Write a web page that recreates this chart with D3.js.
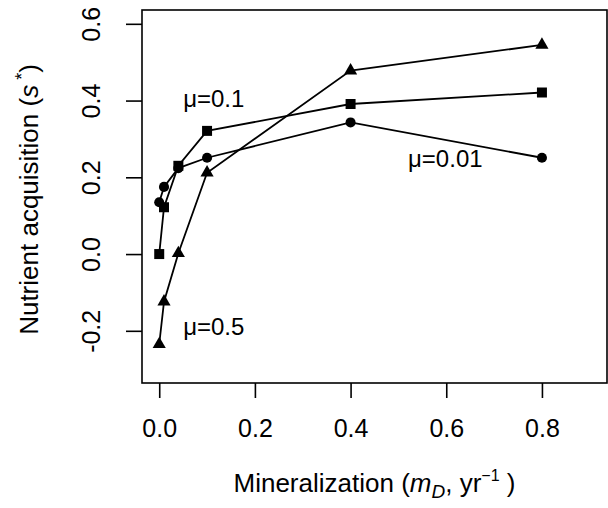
<!DOCTYPE html>
<html>
<head>
<meta charset="utf-8">
<script src="https://cdn.jsdelivr.net/npm/d3@7"></script>
<style>
  html, body { margin: 0; padding: 0; background: #fff; }
  svg { display: block; }
  text { font-family: "Liberation Sans", Arial, Helvetica, sans-serif; fill: #000; }
</style>
</head>
<body>
<svg id="chart" width="608" height="508"></svg>
<script>
// ---- data ----
const mineralization = [0, 0.01, 0.04, 0.1, 0.4, 0.8];
const mu001 = [0.135, 0.175, 0.224, 0.251, 0.343, 0.251];   // circles
const mu01  = [0.0, 0.122, 0.230, 0.321, 0.391, 0.421];    // squares
const mu05  = [-0.235, -0.124, 0.002, 0.212, 0.478, 0.545]; // triangles
const xTicks = [0.0, 0.2, 0.4, 0.6, 0.8];
const yTicks = [-0.2, 0.0, 0.2, 0.4, 0.6];
const seriesNames = ["μ=0.01", "μ=0.1", "μ=0.5"];
const labelPos = [[0.598, 0.25], [0.114, 0.405], [0.114, -0.19]];

// ---- layout ----
const svg = d3.select("#chart");
const pLeft = 142, pRight = 607, pTop = 10, pBottom = 383;
const x = d3.scaleLinear().domain([-0.036, 0.936]).range([pLeft, pRight]);
const y = d3.scaleLinear().domain([-0.336, 0.636]).range([pBottom, pTop]);

const series = [
  { name: seriesNames[0], values: mu001, shape: "circle" },
  { name: seriesNames[1], values: mu01, shape: "square" },
  { name: seriesNames[2], values: mu05, shape: "triangle" }
];

// box
svg.append("rect")
  .attr("x", pLeft).attr("y", pTop)
  .attr("width", pRight - pLeft).attr("height", pBottom - pTop)
  .attr("fill", "none").attr("stroke", "#000").attr("stroke-width", 1.6);

// x axis
const xAxis = svg.append("g").attr("transform", `translate(0,${pBottom})`)
  .call(d3.axisBottom(x).tickValues(xTicks).tickFormat(d3.format(".1f")).tickSize(15).tickPadding(21));
xAxis.select(".domain").attr("stroke", "none");
xAxis.selectAll(".tick line").attr("stroke-width", 1.6);
xAxis.selectAll(".tick text").style("font-size", "25px");

// y axis
const yAxis = svg.append("g").attr("transform", `translate(${pLeft},0)`)
  .call(d3.axisLeft(y).tickValues(yTicks).tickFormat(d3.format(".1f")).tickSize(16).tickPadding(0));
yAxis.select(".domain").attr("stroke", "none");
yAxis.selectAll(".tick line").attr("stroke-width", 1.6);
yAxis.selectAll(".tick text")
  .style("font-size", "25px")
  .attr("x", null).attr("dy", null)
  .attr("text-anchor", "middle")
  .attr("transform", "translate(-42,0) rotate(-90)");
svg.selectAll("g").attr("font-family", null);
svg.selectAll(".tick text").text(d => d3.format(".1f")(d).replace("−", "-"));

// lines and markers
const line = d3.line().x((d, i) => x(mineralization[i])).y(d => y(d));
series.forEach(s => {
  svg.append("path").datum(s.values)
    .attr("d", line).attr("fill", "none").attr("stroke", "#000").attr("stroke-width", 1.8);
  const sym = s.shape === "circle" ? d3.symbolCircle : s.shape === "square" ? d3.symbolSquare : d3.symbolTriangle;
  const size = s.shape === "circle" ? 80 : s.shape === "square" ? 100 : 75;
  svg.append("g").selectAll("path").data(s.values).join("path")
    .attr("d", d3.symbol().type(sym).size(size))
    .attr("transform", (d, i) => `translate(${x(mineralization[i])},${y(d)})`)
    .attr("fill", "#000");
});

// series labels
series.forEach((s, k) => {
  svg.append("text")
    .attr("x", x(labelPos[k][0])).attr("y", y(labelPos[k][1]))
    .attr("dy", "0.35em")
    .attr("text-anchor", "middle")
    .style("font-size", "24px")
    .text(s.name);
});

// axis titles
const xt = svg.append("text")
  .attr("x", (pLeft + pRight) / 2).attr("y", 492)
  .attr("text-anchor", "middle").style("font-size", "26px");
xt.append("tspan").text("Mineralization (");
xt.append("tspan").attr("font-style", "italic").text("m");
xt.append("tspan").attr("font-style", "italic").attr("dy", 6).style("font-size", "19px").text("D");
xt.append("tspan").attr("dy", -6).text(", yr");
xt.append("tspan").attr("dy", -11).style("font-size", "16px").text("−1");
xt.append("tspan").attr("dy", 11).text(" )");

const yt = svg.append("text")
  .attr("transform", `translate(38,${(pTop + pBottom) / 2 + 3}) rotate(-90)`)
  .attr("text-anchor", "middle").style("font-size", "26px");
yt.append("tspan").text("Nutrient acquisition (");
yt.append("tspan").attr("font-style", "italic").text("s");
yt.append("tspan").attr("dy", -10).style("font-size", "18px").text(" *");
yt.append("tspan").attr("dy", 10).text(")");
</script>
</body>
</html>
